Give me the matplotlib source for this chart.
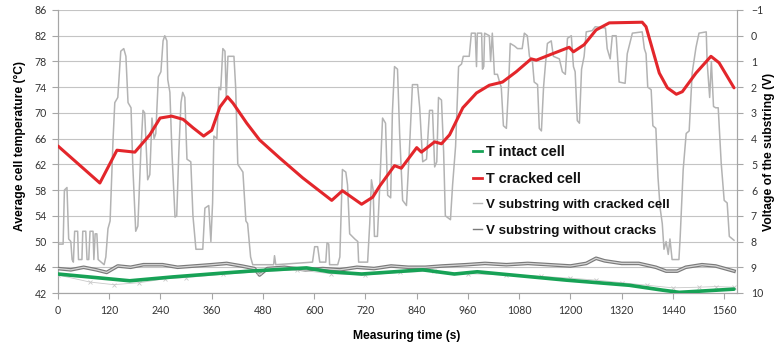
import matplotlib
matplotlib.use("Agg")
import matplotlib.pyplot as plt
from matplotlib.lines import Line2D

# ---------------- data ----------------
# T cracked cell (left axis, °C)
t_cracked = [0, 98, 138, 180, 215, 239, 266, 293, 316, 341, 360, 379, 397, 410, 442,
             472, 519, 573, 641, 666, 711, 737, 753, 788, 804, 840, 851, 882, 898, 917,
             948, 980, 1010, 1041, 1073, 1108, 1120, 1158, 1197, 1207, 1232, 1260, 1291,
             1368, 1377, 1408, 1427, 1448, 1462, 1494, 1529, 1548, 1583]
T_cracked = [64.85, 59.1, 64.2, 63.9, 66.6, 69.2, 69.5, 69.0, 67.7, 66.4, 67.3, 70.9, 72.5,
             71.5, 68.4, 65.8, 63.0, 59.9, 56.4, 57.9, 55.8, 56.9, 58.6, 61.8, 61.4, 64.6,
             63.9, 65.5, 65.2, 66.6, 70.8, 73.1, 74.3, 74.8, 76.4, 78.4, 78.2, 79.2, 80.2,
             79.5, 80.6, 82.9, 84.0, 84.1, 83.4, 76.2, 73.9, 72.9, 73.3, 76.2, 78.8, 77.8,
             73.9]

# T intact cell (left axis, °C)
t_intact = [0, 168, 269, 386, 449, 582, 636, 711, 854, 928, 982, 1190, 1338, 1415, 1455, 1583]
T_intact = [44.95, 43.9, 44.5, 45.1, 45.4, 45.9, 45.3, 44.95, 45.6, 44.95, 45.3, 44.0,
            43.2, 42.45, 42.1, 42.6]

# faint measured points around the intact cell temperature (left axis, °C)
t_meas = [0, 75, 130, 190, 250, 300, 386, 470, 560, 640, 720, 800, 880, 960, 1050, 1130,
          1200, 1260, 1320, 1380, 1440, 1500, 1540, 1583]
T_meas = [44.8, 43.7, 43.3, 43.6, 44.2, 44.4, 44.9, 45.3, 45.6, 45.0, 44.8, 45.2, 45.4,
          45.0, 44.8, 44.6, 44.3, 44.0, 43.6, 43.2, 42.8, 42.9, 43.0, 42.9]

# V substring with cracked cell (right axis, V)
t_vcrack = [0, 12, 15, 21, 25, 30, 33, 36, 39, 46, 48, 56, 58, 65, 68, 72, 75, 82, 84, 87,
            91, 94, 108, 112, 117, 122, 129, 133, 140, 147, 154, 159, 164, 171, 175, 182,
            187, 194, 199, 203, 210, 215, 220, 225, 229, 235, 241, 246, 250, 255, 257, 262,
            267, 274, 278, 283, 288, 292, 297, 302, 311, 316, 323, 339, 344, 353, 358, 362,
            365, 372, 377, 381, 386, 391, 394, 398, 412, 416, 421, 433, 440, 444, 451, 456,
            505, 507, 510, 596, 601, 608, 613, 627, 630, 634, 636, 655, 660, 666, 674, 678,
            683, 695, 702, 704, 725, 730, 734, 738, 741, 748, 753, 760, 767, 772, 779, 783,
            788, 795, 800, 807, 816, 823, 830, 842, 847, 854, 863, 870, 877, 882, 887, 891,
            898, 903, 907, 919, 924, 931, 938, 945, 949, 963, 968, 977, 980, 982, 992, 994,
            997, 999, 1010, 1013, 1017, 1022, 1029, 1034, 1038, 1043, 1050, 1055, 1059,
            1069, 1076, 1087, 1092, 1099, 1104, 1111, 1115, 1123, 1127, 1132, 1137, 1141,
            1146, 1155, 1160, 1174, 1181, 1188, 1193, 1202, 1207, 1211, 1216, 1221, 1226,
            1232, 1237, 1251, 1258, 1282, 1286, 1293, 1298, 1307, 1314, 1328, 1333, 1345,
            1368, 1373, 1377, 1381, 1389, 1393, 1400, 1405, 1410, 1415, 1419, 1424, 1429,
            1433, 1438, 1454, 1457, 1464, 1471, 1478, 1485, 1494, 1501, 1518, 1520, 1526,
            1530, 1535, 1540, 1546, 1553, 1560, 1567, 1572, 1583]
V_vcrack = [8.1, 8.1, 6.0, 5.9, 7.9, 8.0, 8.7, 8.8, 7.6, 7.6, 8.7, 8.7, 7.6, 7.6, 8.7,
            8.7, 7.6, 7.6, 8.7, 7.7, 7.7, 8.7, 8.9, 8.6, 7.5, 7.2, 4.0, 2.6, 2.4, 0.6, 0.5,
            0.8, 2.6, 2.8, 5.0, 7.6, 7.4, 4.5, 2.9, 3.0, 5.6, 5.4, 3.2, 4.0, 3.8, 1.6, 1.4,
            0.2, 0.0, 0.2, 1.7, 2.2, 4.6, 7.05, 7.0, 4.5, 2.6, 2.2, 2.4, 4.8, 4.9, 7.0, 8.3,
            8.3, 6.7, 6.6, 8.0, 6.5, 3.9, 4.0, 2.0, 2.1, 0.5, 0.6, 2.4, 0.8, 0.8, 2.0, 5.0,
            5.3, 7.2, 7.3, 8.6, 8.9, 8.9, 8.55, 8.9, 8.8, 8.2, 8.2, 8.8, 8.8, 8.05, 8.1, 8.9,
            8.9, 8.6, 5.2, 5.3, 5.8, 7.7, 7.9, 8.0, 8.8, 8.8, 7.3, 5.6, 6.0, 7.8, 7.8, 6.0,
            3.2, 3.4, 6.2, 6.3, 3.0, 1.2, 1.3, 3.8, 6.4, 6.6, 4.4, 1.9, 1.9, 2.8, 4.9, 4.8,
            2.9, 2.9, 5.1, 4.9, 2.4, 2.5, 4.5, 7.0, 7.15, 5.8, 4.3, 1.2, 1.1, 0.8, 0.8, -0.1,
            -0.1, 1.2, -0.1, -0.1, 1.3, 1.2, -0.1, 0.0, 1.0, -0.1, 1.5, 1.5, 1.8, 2.0, 3.5,
            3.6, 2.0, 0.3, 0.4, 0.5, 0.5, -0.1, 0.0, 0.8, 1.0, 1.8, 1.9, 3.6, 3.7, 2.0, 1.2,
            0.3, 0.2, 0.8, 0.9, 1.4, 1.5, 0.1, 0.0, 1.2, 1.4, 3.3, 3.4, 1.3, 0.8, -0.15, -0.2,
            -0.35, -0.3, 0.5, 0.9, 0.0, 0.0, 1.8, 1.85, 0.7, -0.1, -0.15, 0.5, 0.7, 2.0, 2.1,
            3.5, 3.6, 5.5, 6.7, 7.3, 8.3, 8.0, 8.5, 7.9, 8.7, 8.7, 7.8, 5.2, 3.8, 3.7, 1.45,
            0.45, -0.1, -0.15, 1.0, 2.4, 1.0, 2.75, 2.8, 2.8, 4.95, 6.4, 6.5, 7.8, 7.95]

# V substring without cracks (right axis, V)
t_vok = [0, 30, 60, 90, 114, 140, 170, 200, 245, 280, 320, 360, 395, 430, 460, 472, 490,
         530, 580, 620, 660, 700, 740, 780, 820, 860, 900, 956, 1000, 1050, 1100, 1150,
         1200, 1237, 1260, 1280, 1320, 1360, 1400, 1424, 1450, 1470, 1508, 1540, 1583]
V_vok = [9.05, 9.1, 9.0, 9.1, 9.2, 8.95, 9.0, 8.9, 8.9, 9.0, 8.95, 8.9, 8.85, 8.95, 9.05,
         9.3, 9.05, 9.0, 9.1, 9.05, 9.1, 9.0, 9.05, 8.95, 9.0, 9.0, 8.95, 8.9, 8.85, 8.9,
         8.85, 8.9, 8.95, 8.85, 8.65, 8.75, 8.85, 8.85, 9.0, 9.15, 9.15, 9.0, 8.9, 8.95, 9.15]

x_ticks = list(range(0, 1561, 120))
left_ticks = list(range(42, 87, 4))
right_ticks = list(range(-1, 11))

labels = ["T intact cell", "T cracked cell", "V substring with cracked cell",
          "V substring without cracks"]

# ---------------- figure ----------------
fig = plt.figure(figsize=(7.77, 3.49), dpi=100)
fig.patch.set_facecolor("white")
ax = fig.add_axes([58 / 777, 56 / 349, 679 / 777, 283 / 349])
ax2 = ax.twinx()

tick_family = ["Lato", "DejaVu Sans"]
lab_font = dict(family=["Liberation Sans", "DejaVu Sans"], weight="bold", size=8.7)

grid_c = "#c4c4c4"
spine_c = "#a6a6a6"

ax.set_xlim(0, 1590)
ax.set_ylim(42, 86)
ax2.set_ylim(10, -1)

ax.set_yticks(left_ticks)
ax.set_xticks(x_ticks)
ax2.set_yticks(right_ticks)
ax.yaxis.grid(True, color=grid_c, lw=0.8)
ax.xaxis.grid(False)
ax.set_axisbelow(True)

for a in (ax, ax2):
    a.spines["top"].set_visible(False)
    for s in ("left", "right", "bottom"):
        a.spines[s].set_color(spine_c)
        a.spines[s].set_linewidth(0.8)
    a.tick_params(colors=spine_c, labelcolor="#333333", length=4, width=0.8, direction="out")

for lab in ax.get_xticklabels() + ax.get_yticklabels() + ax2.get_yticklabels():
    lab.set_fontfamily(tick_family)
    lab.set_fontsize(7.6)
ax.tick_params(axis="x", pad=5)
ax.tick_params(axis="y", pad=4)
ax2.tick_params(axis="y", pad=6)

# helper: left-axis temperature to right-axis position (4 °C per 1 V, 86 °C at -1 V)
to_v = lambda T: [-1 + (86 - v) / 4.0 for v in T]

# series on the voltage axis
ax2.plot(t_vcrack, V_vcrack, color="#b3b3b3", lw=1.1, zorder=2)
ax2.plot(t_vok, V_vok, color="#7a7a7a", lw=2.6, zorder=3)
ax2.plot(t_vok, V_vok, color="#d6d6d6", lw=0.9, zorder=3.1)

# temperature series drawn on top
ax2.plot(t_meas, to_v(T_meas), color="#c9c9c9", lw=0.6, marker="x", ms=3.5,
         mew=0.6, zorder=3.5)
ax2.plot(t_intact, to_v(T_intact), color="#17a256", lw=2.6, zorder=4,
         solid_capstyle="round")
ax2.plot(t_cracked, to_v(T_cracked), color="#e3262b", lw=2.2, zorder=5,
         solid_capstyle="round", solid_joinstyle="round")

# axis labels
ax.set_xlabel("Measuring time (s)", **lab_font)
ax.xaxis.set_label_coords(0.513, -0.13)
ax.set_ylabel("Average cell temperature (°C)", **lab_font)
ax.yaxis.set_label_coords(-0.047, 0.52)
ax2.set_ylabel("Voltage of the substring (V)", rotation=90, **lab_font)
ax2.yaxis.set_label_coords(1.038, 0.497)

# legend
h = [Line2D([], [], color="#17a256", lw=2.0),
     Line2D([], [], color="#e3262b", lw=2.0),
     Line2D([], [], color="#b8b8b8", lw=1.0),
     Line2D([], [], color="#7a7a7a", lw=1.0)]
leg = ax2.legend(h, labels, loc="upper left", bbox_to_anchor=(466 / 777, 1 - 138 / 349),
                 bbox_transform=fig.transFigure, frameon=False, handlelength=0.7,
                 handletextpad=0.3, labelspacing=0.98, borderpad=0,
                 prop=dict(family=["Liberation Sans", "DejaVu Sans"], weight="bold",
                           size=9.6))
for i, tx in enumerate(leg.get_texts()):
    tx.set_fontsize(10.4 if i < 2 else 9.6)
    tx.set_color("#111111")

fig.savefig("out.png", dpi=100, facecolor="white")
